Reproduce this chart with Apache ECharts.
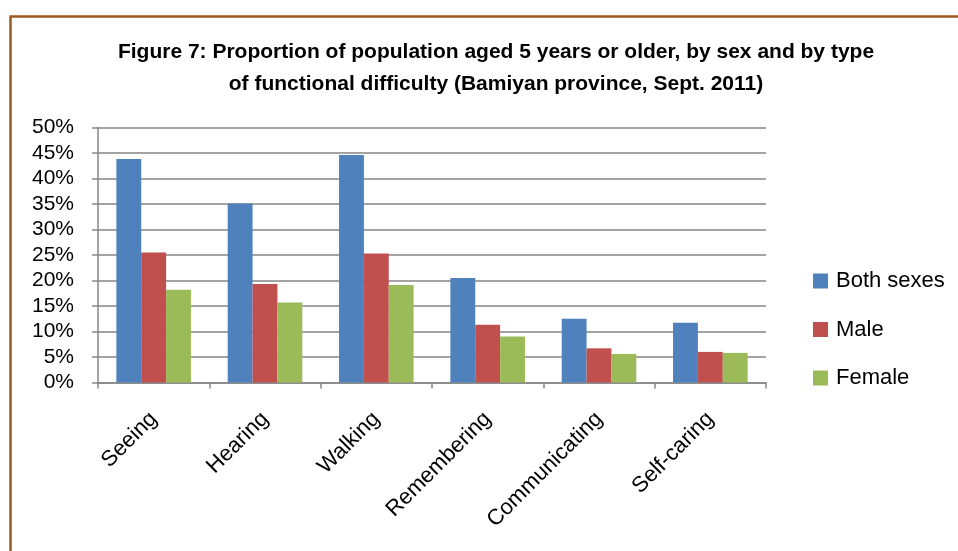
<!DOCTYPE html>
<html>
<head>
<meta charset="utf-8">
<script src="https://cdn.jsdelivr.net/npm/echarts@6/dist/echarts.min.js"></script>
<style>
  html, body { margin: 0; padding: 0; background: #fff; overflow: hidden; }
  #chart { width: 958px; height: 551px; }
</style>
</head>
<body>
<div id="chart"></div>
<script>
const categories = ['Seeing', 'Hearing', 'Walking', 'Remembering', 'Communicating', 'Self-caring']
const bothSexes = [43.8, 35.1, 44.6, 20.5, 12.5, 11.7]
const male = [25.5, 19.3, 25.3, 11.3, 6.7, 6.0]
const female = [18.2, 15.7, 19.1, 9.0, 5.6, 5.8]
const seriesNames = ['Both sexes', 'Male', 'Female']
const colors = ['#4f81bd', '#c0504d', '#9bbb59']

const font = '"Liberation Sans", Arial, sans-serif'
const gridColor = '#868686'

const chart = echarts.init(document.getElementById('chart'))

function bar(name, data, color) {
  return {
    name,
    type: 'bar',
    data,
    barGap: '0%',
    barCategoryGap: '33%',
    itemStyle: { color },
    animation: false
  }
}

chart.setOption({
  animation: false,
  textStyle: { fontFamily: font },
  title: {
    text: 'Figure 7: Proportion of population aged 5 years or older, by sex and by type\nof functional difficulty (Bamiyan province, Sept. 2011)',
    left: 491,
    top: 31,
    textAlign: 'center',
    textStyle: {
      fontFamily: font,
      fontSize: 21,
      fontWeight: 'bold',
      color: '#000',
      lineHeight: 32
    }
  },
  graphic: [{
    type: 'rect',
    shape: { x: 10.5, y: 16.5, width: 1000, height: 600 },
    style: { fill: 'none', stroke: '#9c5a22', lineWidth: 2.5 },
    silent: true
  }],
  legend: {
    orient: 'vertical',
    left: 808,
    top: 265,
    itemWidth: 15,
    itemHeight: 15,
    itemGap: 26.5,
    icon: 'rect',
    data: seriesNames,
    textStyle: { fontFamily: font, fontSize: 22, color: '#000', padding: [0, 0, 0, 3] }
  },
  grid: { left: 98, top: 127.5, right: 192, bottom: 168.5, containLabel: false },
  xAxis: {
    type: 'category',
    data: categories,
    axisLine: { lineStyle: { color: gridColor, width: 1.5 } },
    axisTick: { show: true, length: 6, lineStyle: { color: gridColor, width: 1.5 } },
    axisLabel: {
      rotate: 45,
      margin: 33,
      padding: [14, 0, 0, 0],
      fontFamily: font,
      fontSize: 22,
      color: '#000',
      interval: 0
    }
  },
  yAxis: {
    type: 'value',
    min: 0,
    max: 50,
    interval: 5,
    axisLine: { show: true, lineStyle: { color: gridColor, width: 1.5 } },
    axisTick: { show: true, length: 6, lineStyle: { color: gridColor, width: 1.5 } },
    splitLine: { lineStyle: { color: gridColor, width: 1.5 } },
    axisLabel: {
      formatter: '{value}%',
      margin: 24,
      fontFamily: font,
      fontSize: 21,
      color: '#000'
    }
  },
  series: [
    bar(seriesNames[0], bothSexes, colors[0]),
    bar(seriesNames[1], male, colors[1]),
    bar(seriesNames[2], female, colors[2])
  ]
})
</script>
</body>
</html>
